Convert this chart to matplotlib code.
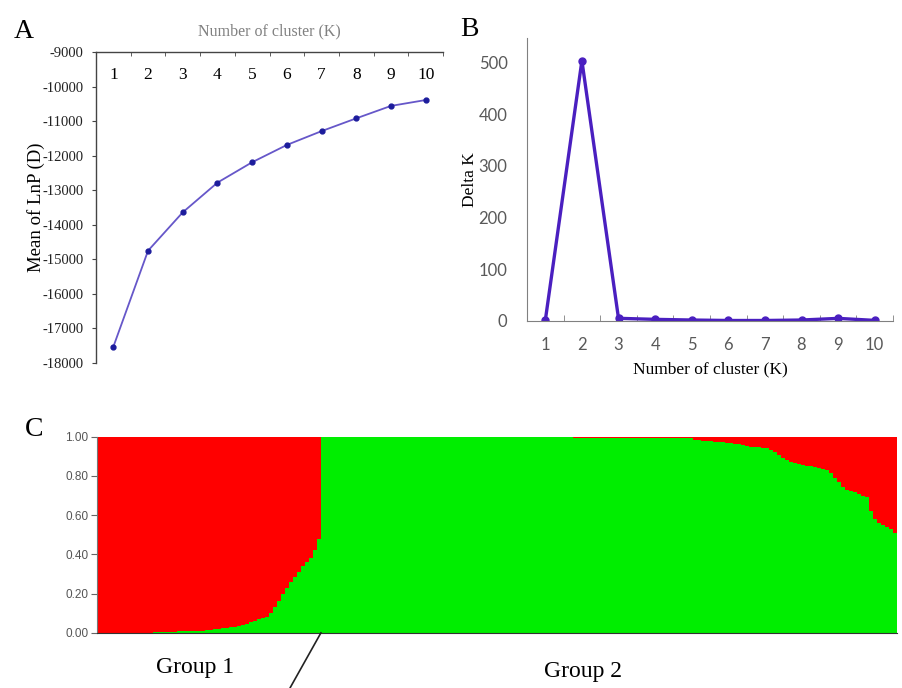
import matplotlib
matplotlib.use('Agg')
import matplotlib.pyplot as plt
import numpy as np

plt.rcParams['font.family'] = ['Liberation Serif', 'DejaVu Serif']
plt.rcParams['axes.unicode_minus'] = False

# panel A: mean LnP(D) per K
k = [1, 2, 3, 4, 5, 6, 7, 8, 9, 10]
mean_lnp = [-17530, -14750, -13640, -12780, -12190, -11690, -11290, -10920, -10560, -10390]

# panel B: delta K
delta_k = [0.5, 504, 4.6, 2.6, 1.3, 0.4, 0.4, 1.3, 4.5, 0.6]

# panel C: structure bar plot, membership
# group 1: green (cluster 2) share, sorted
group1_green = ([0.0] * 14 + [0.005] * 6 + [0.01] * 7 +
                [0.015, 0.015, 0.02, 0.02, 0.022, 0.025, 0.027, 0.03, 0.035,
                 0.04, 0.045, 0.055, 0.062, 0.07, 0.075, 0.082, 0.10, 0.13,
                 0.16, 0.20, 0.23, 0.26, 0.285, 0.31, 0.34, 0.36, 0.38,
                 0.42, 0.48])
# group 2: red (cluster 1) share, sorted
group2_red = ([0.0] * 63 + [0.005] * 30 +
              [0.015, 0.017, 0.02, 0.022, 0.024, 0.025, 0.026, 0.028, 0.03,
               0.032, 0.035, 0.037, 0.04, 0.045, 0.05, 0.052, 0.054, 0.056,
               0.06, 0.066, 0.08, 0.095, 0.11, 0.12, 0.128, 0.134, 0.14,
               0.145, 0.15, 0.152, 0.155, 0.16, 0.165, 0.17, 0.185, 0.21,
               0.23, 0.255, 0.27, 0.275, 0.28, 0.29, 0.30, 0.31, 0.38,
               0.42, 0.44, 0.45, 0.46, 0.47, 0.49])

green = np.array(group1_green + [1 - v for v in group2_red])
red = 1 - green
n_ind = len(green)
n_group1 = len(group1_green)

fig = plt.figure(figsize=(9.02, 6.88), dpi=100)
W, H = 902, 688

def box(l, t, r, b):
    return [l / W, 1 - b / H, (r - l) / W, (b - t) / H]

# ---------------- A ----------------
axA = fig.add_axes(box(96, 52, 443, 363))
axA.plot(k, mean_lnp, color='#6657c9', lw=1.3, zorder=2)
axA.plot(k, mean_lnp, 'o', color='#1c1c9c', ms=3.5, zorder=3)
axA.set_xlim(0.5, 10.5)
axA.set_ylim(-18000, -9000)
axA.set_yticks(range(-18000, -8999, 1000))
axA.tick_params(axis='y', direction='out', length=3, pad=6, labelsize=10.5,
                color='#444444', labelcolor='#222222')
axA.xaxis.tick_top()
axA.set_xticks(k)
axA.set_xticks(np.arange(0.5, 11, 1), minor=True)
axA.tick_params(axis='x', which='major', length=0, pad=-22, labelsize=12.5)
axA.tick_params(axis='x', which='minor', direction='in', length=3, color='#444444')
axA.spines['bottom'].set_visible(False)
axA.spines['right'].set_visible(False)
for s in ['top', 'left']:
    axA.spines[s].set_color('#444444')
    axA.spines[s].set_linewidth(1.0)
axA.xaxis.set_label_position('top')
axA.set_xlabel('Number of cluster (K)', fontsize=11.5, color='#808080')
axA.xaxis.set_label_coords(0.5, 1.052)
axA.set_ylabel('Mean of LnP (D)', fontsize=13.5)
axA.yaxis.set_label_coords(-0.147, 0.5)

# ---------------- B ----------------
axB = fig.add_axes(box(527, 38, 893, 320.7))
axB.plot(k, delta_k, 'o-', color='#4a1fc0', lw=2.4, ms=5)
axB.set_xlim(0.5, 10.5)
axB.set_ylim(0, 548)
axB.set_yticks([0, 100, 200, 300, 400, 500])
axB.set_xticks(k)
axB.set_xticks(np.arange(0.5, 11, 1), minor=True)
axB.tick_params(axis='both', which='major', length=0, labelsize=12,
                labelcolor='#595959', labelfontfamily='Lato')
axB.tick_params(axis='y', pad=14)
axB.tick_params(axis='x', pad=12)
axB.tick_params(axis='x', which='minor', direction='in', length=4, color='#808080')
axB.spines['top'].set_visible(False)
axB.spines['right'].set_visible(False)
for s in ['bottom', 'left']:
    axB.spines[s].set_color('#808080')
axB.set_xlabel('Number of cluster (K)', fontsize=12.5)
axB.xaxis.set_label_coords(0.5, -0.143)
axB.set_ylabel('Delta K', fontsize=12.5)
axB.yaxis.set_label_coords(-0.134, 0.5)

# ---------------- C ----------------
axC = fig.add_axes(box(97, 436.7, 897, 632.7))
idx = np.arange(n_ind)
axC.bar(idx, green, width=1.0, align='edge', color='#00ee00', linewidth=0)
axC.bar(idx, red, bottom=green, width=1.0, align='edge', color='#ff0000', linewidth=0)
axC.set_xlim(0, n_ind)
axC.set_ylim(0, 1)
axC.set_yticks([0, 0.2, 0.4, 0.6, 0.8, 1.0])
axC.set_yticklabels(['0.00', '0.20', '0.40', '0.60', '0.80', '1.00'])
axC.set_xticks([])
axC.tick_params(axis='y', direction='out', length=4, pad=2, labelsize=8.5,
                color='#666666', labelcolor='#555555',
                labelfontfamily='Liberation Sans')
axC.spines['top'].set_visible(False)
axC.spines['right'].set_visible(False)
axC.spines['left'].set_color('#777777')
axC.spines['bottom'].set_color('#333333')

axC.annotate('', xy=(n_group1, 0), xycoords='data',
             xytext=(290 / W, 0), textcoords='figure fraction',
             arrowprops=dict(arrowstyle='-', color='#222222', lw=1.2,
                             shrinkA=0, shrinkB=0))

fig.text(195 / W, 1 - 667 / H, 'Group 1', fontsize=17, ha='center', va='center')
fig.text(583 / W, 1 - 671 / H, 'Group 2', fontsize=17, ha='center', va='center')

fig.text(24 / W, 1 - 32 / H, 'A', fontsize=20, ha='center', va='center')
fig.text(469 / W, 1 - 30 / H, 'B', fontsize=20, ha='center', va='center')
fig.text(34 / W, 1 - 430 / H, 'C', fontsize=20, ha='center', va='center')

fig.savefig('out.png', dpi=100)
